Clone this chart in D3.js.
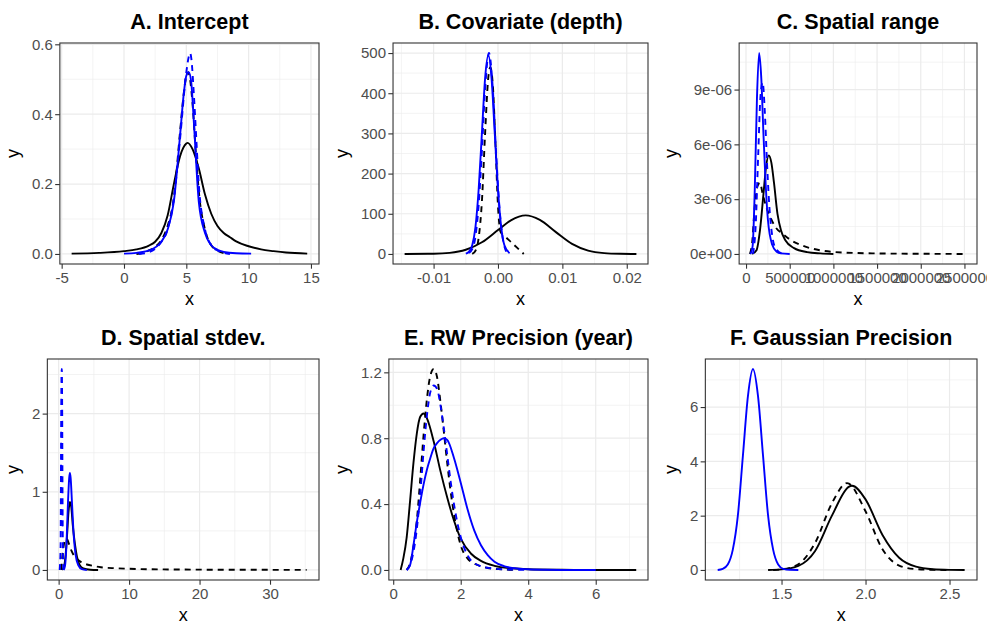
<!DOCTYPE html>
<html>
<head>
<meta charset="utf-8">
<script src="https://cdn.jsdelivr.net/npm/d3@7"></script>
<style>
  body { margin: 0; background: #fff; }
  svg { display: block; font-family: 'Liberation Sans', Arial, sans-serif; }
</style>
</head>
<body>
<svg id="chart" width="987" height="628"></svg>
<script>
const titles = ['A. Intercept', 'B. Covariate (depth)', 'C. Spatial range',
  'D. Spatial stdev.', 'E. RW Precision (year)', 'F. Gaussian Precision'];

// A. Intercept
const aBlackSolid = [[-4.2,0.001],[-2,0.003],[0,0.008],[1,0.013],[2,0.024],[2.5,0.035],[3,0.06],[3.5,0.11],[4,0.2],[4.5,0.28],[5,0.316],[5.1,0.318],[5.5,0.3],[6,0.245],[6.5,0.17],[7,0.115],[7.5,0.08],[8,0.06],[8.5,0.048],[9,0.036],[10,0.022],[11,0.013],[12,0.008],[13,0.004],[14.7,0.001]];
const aBlackDash = [[1,0],[1.5,0.003],[2,0.01],[2.5,0.02],[3,0.04],[3.5,0.08],[4,0.16],[4.5,0.35],[4.8,0.46],[5,0.51],[5.15,0.52],[5.3,0.5],[5.5,0.43],[5.8,0.27],[6,0.18],[6.5,0.07],[7,0.025],[7.5,0.01],[8.3,0]];
const aBlueSolid = [[0,0.001],[1,0.003],[2,0.01],[3,0.035],[3.5,0.07],[4,0.15],[4.5,0.34],[4.8,0.46],[5,0.51],[5.2,0.52],[5.4,0.49],[5.6,0.38],[6,0.15],[6.5,0.06],[7,0.025],[7.5,0.012],[8,0.006],[9,0.002],[10.2,0.001]];
const aBlueDash = [[1.2,0],[2,0.005],[2.5,0.015],[3,0.035],[3.5,0.07],[4,0.16],[4.5,0.33],[5,0.52],[5.2,0.565],[5.3,0.575],[5.4,0.56],[5.6,0.46],[5.8,0.33],[6,0.2],[6.5,0.07],[7,0.025],[7.5,0.01],[8.5,0]];
const aXTicks = [-5, 0, 5, 10, 15];
const aXLabels = ['-5', '0', '5', '10', '15'];
const aYTicks = [0, 0.2, 0.4, 0.6];
const aYLabels = ['0.0', '0.2', '0.4', '0.6'];

// B. Covariate (depth)
const bBlackSolid = [[-0.0145,0],[-0.01,0.5],[-0.0075,2.6],[-0.005,10.4],[-0.0025,29],[0,59.5],[0.002,83.7],[0.0043,96],[0.0065,84.7],[0.009,54.3],[0.0115,25.2],[0.014,8.5],[0.0165,2.1],[0.019,0.4],[0.0215,0]];
const bBlackDash = [[-0.004,0],[-0.0035,8],[-0.003,40],[-0.0025,130],[-0.002,300],[-0.0015,440],[-0.0012,465],[-0.0008,420],[-0.0004,280],[0,120],[0.0004,55],[0.001,45],[0.002,30],[0.003,15],[0.004,0]];
const bBlueSolid = [[-0.005,1],[-0.0045,5.5],[-0.004,21.7],[-0.0035,67],[-0.003,161],[-0.0025,300],[-0.002,437],[-0.0015,495],[-0.001,437],[-0.0005,300],[0,161],[0.0005,67],[0.001,21.7],[0.0018,2]];
const bBlueDash = [[-0.0045,2.5],[-0.004,12],[-0.0035,43],[-0.003,122],[-0.0025,255],[-0.002,410],[-0.0014,500],[-0.0008,410],[-0.0003,255],[0.0002,122],[0.0007,43],[0.0015,0]];
const bXTicks = [-0.01, 0, 0.01, 0.02];
const bXLabels = ['-0.01', '0.00', '0.01', '0.02'];
const bYTicks = [0, 100, 200, 300, 400, 500];
const bYLabels = ['0', '100', '200', '300', '400', '500'];

// C. Spatial range
const cBlackSolid = [[70000,0],[120000,0.2e-6],[160000,1.3e-6],[200000,3.3e-6],[230000,4.8e-6],[260000,5.4e-6],[290000,5.0e-6],[320000,3.9e-6],[360000,2.2e-6],[400000,1.3e-6],[450000,0.75e-6],[550000,0.32e-6],[700000,0.1e-6],[850000,0.03e-6],[1000000,0]];
const cBlackDash = [[45000,0],[70000,0.6e-6],[100000,2.6e-6],[130000,3.7e-6],[160000,3.9e-6],[190000,3.3e-6],[230000,2.6e-6],[280000,2.0e-6],[340000,1.45e-6],[420000,1.1e-6],[500000,0.8e-6],[650000,0.45e-6],[850000,0.2e-6],[1100000,0.08e-6],[1500000,0.03e-6],[2000000,0.01e-6],[2520000,0]];
const cBlueSolid = [[50000,0],[75000,0.4e-6],[100000,3.5e-6],[125000,8.5e-6],[150000,1.1e-5],[175000,9.6e-6],[200000,6.5e-6],[225000,3.8e-6],[250000,1.9e-6],[300000,0.5e-6],[350000,0.12e-6],[400000,0.03e-6],[500000,0]];
const cBlueDash = [[80000,0],[110000,1.5e-6],[140000,5.5e-6],[165000,8.6e-6],[190000,9.4e-6],[215000,7.8e-6],[240000,5.0e-6],[270000,2.4e-6],[300000,1.0e-6],[340000,0.3e-6],[420000,0]];
const cXTicks = [0, 500000, 1000000, 1500000, 2000000, 2500000];
const cXLabels = ['0', '500000', '1000000', '1500000', '2000000', '2500000'];
const cYTicks = [0, 3e-6, 6e-6, 9e-6];
const cYLabels = ['0e+00', '3e-06', '6e-06', '9e-06'];

// D. Spatial stdev.
const dBlackSolid = [[0.5,0],[0.8,0.06],[1,0.2],[1.2,0.45],[1.4,0.74],[1.6,0.87],[1.8,0.8],[2,0.58],[2.3,0.34],[2.6,0.17],[3,0.06],[3.5,0.02],[4.5,0.003],[5.6,0]];
const dBlackDash = [[0.35,0],[0.5,0.15],[0.7,0.3],[0.9,0.38],[1.15,0.4],[1.4,0.35],[1.8,0.25],[2.2,0.18],[2.6,0.14],[3.2,0.1],[4,0.07],[5,0.05],[6,0.035],[8,0.022],[10,0.015],[13,0.009],[17,0.006],[22,0.003],[28,0.002],[35.2,0.001]];
const dBlueSolid = [[0.7,0],[0.9,0.05],[1.1,0.3],[1.3,0.8],[1.5,1.18],[1.6,1.24],[1.7,1.18],[1.9,0.85],[2.1,0.5],[2.4,0.2],[2.8,0.06],[3.3,0.01],[4,0]];
const dBlueDash = [[0.15,0],[0.28,0.3],[0.36,1.9],[0.41,2.5],[0.45,2.57],[0.5,2.1],[0.56,0.8],[0.66,0]];
const dXTicks = [0, 10, 20, 30];
const dXLabels = ['0', '10', '20', '30'];
const dYTicks = [0, 1, 2];
const dYLabels = ['0', '1', '2'];

// E. RW Precision (year)
const eBlackSolid = [[0.22,0],[0.3,0.07],[0.4,0.2],[0.5,0.42],[0.6,0.65],[0.7,0.83],[0.8,0.93],[0.9,0.95],[1,0.92],[1.2,0.78],[1.4,0.6],[1.6,0.44],[1.8,0.3],[2,0.19],[2.3,0.1],[2.6,0.055],[3,0.025],[3.5,0.01],[4,0.004],[5,0.001],[6,0],[7.2,0]];
const eBlackDash = [[0.4,0],[0.5,0.04],[0.6,0.14],[0.7,0.3],[0.8,0.55],[0.9,0.82],[1,1.04],[1.1,1.18],[1.2,1.22],[1.3,1.17],[1.4,1.02],[1.5,0.84],[1.6,0.65],[1.7,0.48],[1.8,0.34],[2,0.15],[2.2,0.07],[2.5,0.03],[2.8,0.012],[3.2,0.004],[3.6,0]];
const eBlueSolid = [[0.4,0],[0.5,0.03],[0.6,0.15],[0.7,0.29],[0.8,0.41],[0.9,0.52],[1,0.61],[1.1,0.68],[1.2,0.74],[1.3,0.77],[1.4,0.79],[1.5,0.8],[1.6,0.79],[1.8,0.68],[2,0.53],[2.2,0.37],[2.4,0.24],[2.6,0.15],[2.8,0.09],[3,0.05],[3.3,0.022],[3.6,0.01],[4,0.004],[4.5,0.001],[5,0],[6,0]];
const eBlueDash = [[0.4,0],[0.5,0.03],[0.6,0.11],[0.7,0.25],[0.8,0.46],[0.9,0.72],[1,0.94],[1.1,1.08],[1.2,1.12],[1.3,1.1],[1.4,1],[1.5,0.86],[1.6,0.7],[1.7,0.54],[1.8,0.4],[2,0.2],[2.2,0.09],[2.5,0.03],[2.9,0.01],[3.4,0.003],[4,0]];
const eXTicks = [0, 2, 4, 6];
const eXLabels = ['0', '2', '4', '6'];
const eYTicks = [0, 0.4, 0.8, 1.2];
const eYLabels = ['0.0', '0.4', '0.8', '1.2'];

// F. Gaussian Precision
const fBlackSolid = [[1.42,0],[1.5,0.02],[1.6,0.15],[1.7,0.7],[1.8,2.0],[1.9,3.06],[1.92,3.1],[2,2.6],[2.1,1.3],[2.2,0.45],[2.3,0.12],[2.4,0.025],[2.5,0.004],[2.59,0]];
const fBlackDash = [[1.45,0],[1.5,0.02],[1.6,0.21],[1.7,1.0],[1.8,2.46],[1.89,3.2],[2,2.16],[2.1,0.77],[2.2,0.16],[2.3,0.03],[2.4,0.005],[2.5,0]];
const fBlueSolid = [[1.12,0],[1.15,0.04],[1.18,0.2],[1.21,0.75],[1.24,2.0],[1.27,4.2],[1.3,6.4],[1.33,7.4],[1.36,6.4],[1.39,4.2],[1.42,2.0],[1.45,0.75],[1.48,0.2],[1.51,0.04],[1.55,0.005],[1.6,0]];
const fXTicks = [1.5, 2.0, 2.5];
const fXLabels = ['1.5', '2.0', '2.5'];
const fYTicks = [0, 2, 4, 6];
const fYLabels = ['0', '2', '4', '6'];

const BLUE = '#0000ff';
const curveSet = (bs, bd, us, ud) => [
  { data: bs, color: 'black', dash: false },
  { data: bd, color: 'black', dash: true },
  { data: us, color: BLUE, dash: false },
  { data: ud, color: BLUE, dash: true }
].filter(c => c.data);

const panels = [
  { curves: curveSet(aBlackSolid, aBlackDash, aBlueSolid, aBlueDash), xTicks: aXTicks, xLabels: aXLabels, yTicks: aYTicks, yLabels: aYLabels },
  { curves: curveSet(bBlackSolid, bBlackDash, bBlueSolid, bBlueDash), xTicks: bXTicks, xLabels: bXLabels, yTicks: bYTicks, yLabels: bYLabels },
  { curves: curveSet(cBlackSolid, cBlackDash, cBlueSolid, cBlueDash), xTicks: cXTicks, xLabels: cXLabels, yTicks: cYTicks, yLabels: cYLabels },
  { curves: curveSet(dBlackSolid, dBlackDash, dBlueSolid, dBlueDash), xTicks: dXTicks, xLabels: dXLabels, yTicks: dYTicks, yLabels: dYLabels },
  { curves: curveSet(eBlackSolid, eBlackDash, eBlueSolid, eBlueDash), xTicks: eXTicks, xLabels: eXLabels, yTicks: eYTicks, yLabels: eYLabels },
  { curves: curveSet(fBlackSolid, fBlackDash, fBlueSolid, null), xTicks: fXTicks, xLabels: fXLabels, yTicks: fYTicks, yLabels: fYLabels }
];

const svg = d3.select('#chart');
const TICK_FS = 15;

function minorBreaks(ticks, domain) {
  const step = ticks[1] - ticks[0];
  const out = ticks.map(t => t - step / 2).concat([ticks[ticks.length - 1] + step / 2]);
  return out.filter(v => v >= domain[0] && v <= domain[1]);
}

function drawPanel(p, i) {
  const cellX = (i % 3) * 329;
  const cellY = Math.floor(i / 3) * 316;
  const g = svg.append('g');

  // width of the widest y label decides where the panel starts
  const probe = g.append('g').attr('font-size', TICK_FS);
  let maxW = 0;
  p.yLabels.forEach(l => {
    const t = probe.append('text').text(l);
    maxW = Math.max(maxW, t.node().getComputedTextLength());
  });
  probe.remove();

  const left = cellX + 32 + maxW + 7;
  const right = cellX + 319;
  const top = cellY + 43;
  const bottom = cellY + 264;

  const pts = p.curves.flatMap(c => c.data);
  const [x0, x1] = d3.extent(pts, d => d[0]);
  const [y0, y1] = d3.extent(pts, d => d[1]);
  const xPad = (x1 - x0) * 0.05, yPad = (y1 - y0) * 0.05;
  const x = d3.scaleLinear().domain([x0 - xPad, x1 + xPad]).range([left, right]);
  const y = d3.scaleLinear().domain([y0 - yPad, y1 + yPad]).range([bottom, top]);

  // grid
  const grid = g.append('g');
  minorBreaks(p.xTicks, x.domain()).forEach(v => {
    grid.append('line').attr('x1', x(v)).attr('x2', x(v)).attr('y1', top).attr('y2', bottom)
      .attr('stroke', '#ebebeb').attr('stroke-width', 0.6);
  });
  minorBreaks(p.yTicks, y.domain()).forEach(v => {
    grid.append('line').attr('x1', left).attr('x2', right).attr('y1', y(v)).attr('y2', y(v))
      .attr('stroke', '#ebebeb').attr('stroke-width', 0.6);
  });
  p.xTicks.forEach(v => {
    grid.append('line').attr('x1', x(v)).attr('x2', x(v)).attr('y1', top).attr('y2', bottom)
      .attr('stroke', '#ebebeb').attr('stroke-width', 1.2);
  });
  p.yTicks.forEach(v => {
    grid.append('line').attr('x1', left).attr('x2', right).attr('y1', y(v)).attr('y2', y(v))
      .attr('stroke', '#ebebeb').attr('stroke-width', 1.2);
  });

  // curves
  const line = d3.line().x(d => x(d[0])).y(d => y(d[1])).curve(d3.curveMonotoneX);
  p.curves.forEach(c => {
    g.append('path')
      .attr('d', line(c.data))
      .attr('fill', 'none')
      .attr('stroke', c.color)
      .attr('stroke-width', 1.9)
      .attr('stroke-dasharray', c.dash ? '6,5' : null);
  });

  g.append('rect')
    .attr('x', left).attr('y', top)
    .attr('width', right - left).attr('height', bottom - top)
    .attr('fill', 'none').attr('stroke', '#333333').attr('stroke-width', 1.1);

  // axes
  const xAxis = g.append('g').attr('transform', `translate(0,${bottom})`)
    .call(d3.axisBottom(x).tickValues(p.xTicks).tickFormat((d, j) => p.xLabels[j])
      .tickSize(4.7).tickSizeOuter(0).tickPadding(4));
  const yAxis = g.append('g').attr('transform', `translate(${left},0)`)
    .call(d3.axisLeft(y).tickValues(p.yTicks).tickFormat((d, j) => p.yLabels[j])
      .tickSize(4.7).tickSizeOuter(0).tickPadding(2.3));
  [xAxis, yAxis].forEach(a => {
    a.select('.domain').remove();
    a.selectAll('line').attr('stroke', '#333333').attr('stroke-width', 1.1);
    a.selectAll('text').attr('fill', '#4d4d4d').attr('font-size', TICK_FS)
      .attr('font-family', "'Liberation Sans', Arial, sans-serif");
  });

  const midX = (left + right) / 2;
  g.append('text').attr('x', midX).attr('y', cellY + 28.5)
    .attr('text-anchor', 'middle').attr('font-size', 21.5).attr('font-weight', 'bold')
    .text(titles[i]);
  g.append('text').attr('x', midX).attr('y', bottom + 40.5)
    .attr('text-anchor', 'middle').attr('font-size', 18).text('x');
  g.append('text')
    .attr('transform', `translate(${cellX + 19},${(top + bottom) / 2}) rotate(-90)`)
    .attr('text-anchor', 'middle').attr('font-size', 18).text('y');
}

panels.forEach(drawPanel);
</script>
</body>
</html>
